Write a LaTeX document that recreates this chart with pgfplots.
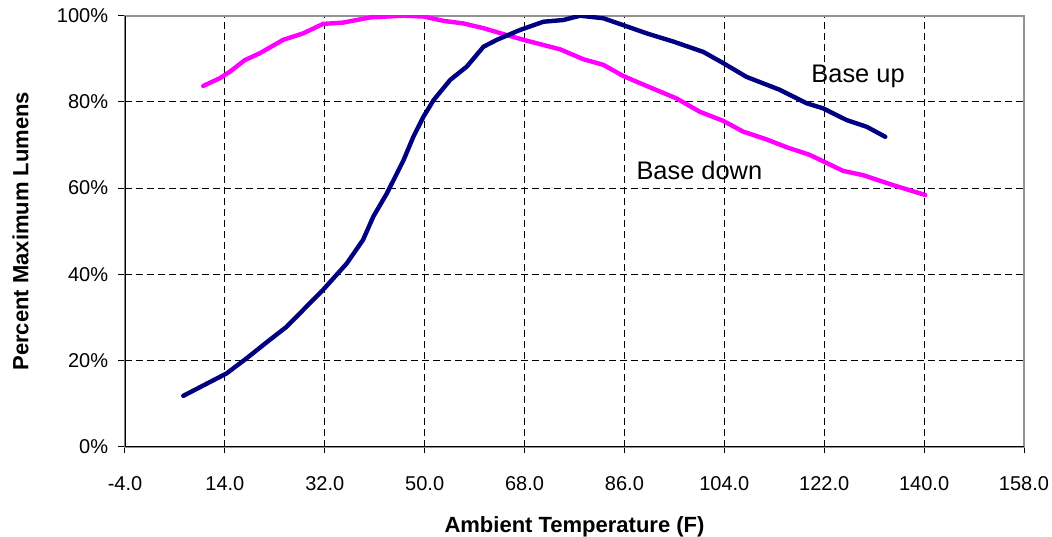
\documentclass[border=0pt]{standalone}
\usepackage{fontspec}
\setmainfont{Liberation Sans}
\usepackage{pgfplots}
\pgfplotsset{compat=1.18}
\usetikzlibrary{calc}
\definecolor{navyline}{RGB}{0,0,128}
\definecolor{magline}{RGB}{255,0,255}
\begin{document}
\begin{tikzpicture}
\begin{axis}[
  scale only axis, width=449.5bp, height=215.5bp,
  xmin=-4, xmax=158, ymin=0, ymax=100,
  xtick={-4,14,32,50,68,86,104,122,140,158},
  xticklabels={-4.0,14.0,32.0,50.0,68.0,86.0,104.0,122.0,140.0,158.0},
  ytick={0,20,40,60,80,100},
  yticklabels={0\%,20\%,40\%,60\%,80\%,100\%},
  tick align=outside, major tick length=3.25bp,
  xtick pos=bottom, ytick pos=left,
  tick style={black, line width=0.5bp},
  grid=major,
  major grid style={black, line width=0.5bp, dash pattern=on 3.3bp off 2.2bp},
  axis line style={draw=gray!85, line width=0.9bp},
  ticklabel style={font=\fontsize{10bp}{12bp}\selectfont},
  xticklabel style={yshift=-8bp},
  yticklabel style={xshift=-1.7bp},
  xlabel={Ambient Temperature (F)},
  ylabel={Percent Maximum Lumens},
  label style={font=\bfseries\fontsize{11bp}{13bp}\selectfont},
  xlabel style={at={(axis description cs:0.5,-0.2002)}, anchor=base},
  ylabel style={at={(axis description cs:-0.10756,0.5)}, anchor=base, rotate=0},
]
\coordinate (bl) at (rel axis cs:0,0);
\coordinate (tr) at (rel axis cs:1,1);
\addplot[magline, line width=2.2bp, line join=round, line cap=round, mark=none] coordinates {
(10.1,83.7) (13.1,85.5) (14.9,87) (17.6,89.7) (20.3,91.3) (24.5,94.4) (28.1,95.9)
(31.7,98.1) (35.3,98.4) (40.2,99.6) (46.2,100) (49.8,99.8) (53.4,98.8) (57,98.2)
(60.6,97.1) (64.8,95.5) (68.4,94.2) (72.6,92.8) (74.4,92.2) (78.6,89.9) (82.2,88.6)
(85.8,86) (90,83.7) (95.4,80.8) (99.6,77.7) (103.8,75.6) (107.4,73.1) (111.6,71.3)
(115.2,69.5) (119.4,67.7) (125.4,64) (129,63) (134.4,60.7) (140.2,58.4)
};
\addplot[navyline, line width=2.2bp, line join=round, line cap=round, mark=none] coordinates {
(6.5,11.8) (14.3,17.0) (17.9,20.5) (22.1,24.8) (25.1,27.8) (28.7,32.5) (31.7,36.4)
(35.95,42.5) (38.9,48) (40.75,53.4) (43.2,58.8) (46.2,66.5) (47.96,71.9) (49.8,76.6)
(51.6,80.4) (54.6,85.1) (57.6,88.2) (60.6,92.8) (63,94.4) (67.2,96.7) (71.4,98.6)
(75,99) (78,100) (82.2,99.4) (85.8,97.8) (90,95.9) (94.8,94) (100.2,91.6) (103.8,89)
(108,85.8) (114,82.8) (118.8,79.7) (121.8,78.5) (126,75.8) (129.7,74.2) (133,71.9)
};
\node[font=\fontsize{12.7bp}{15bp}\selectfont, anchor=base, inner sep=0pt] at (axis cs:128.1,84.45) {Base up};
\node[font=\fontsize{12.7bp}{15bp}\selectfont, anchor=base, inner sep=0pt] at (axis cs:99.5,61.9) {Base down};
\draw[black, line width=0.9bp] (rel axis cs:0,1) -- (rel axis cs:0,0) -- (rel axis cs:1,0);
\end{axis}
\pgfresetboundingbox
\path[use as bounding box] ($(bl)+(-62.5bp,-45.15bp)$) rectangle ($(tr)+(14bp,7.85bp)$);
\end{tikzpicture}
\end{document}
